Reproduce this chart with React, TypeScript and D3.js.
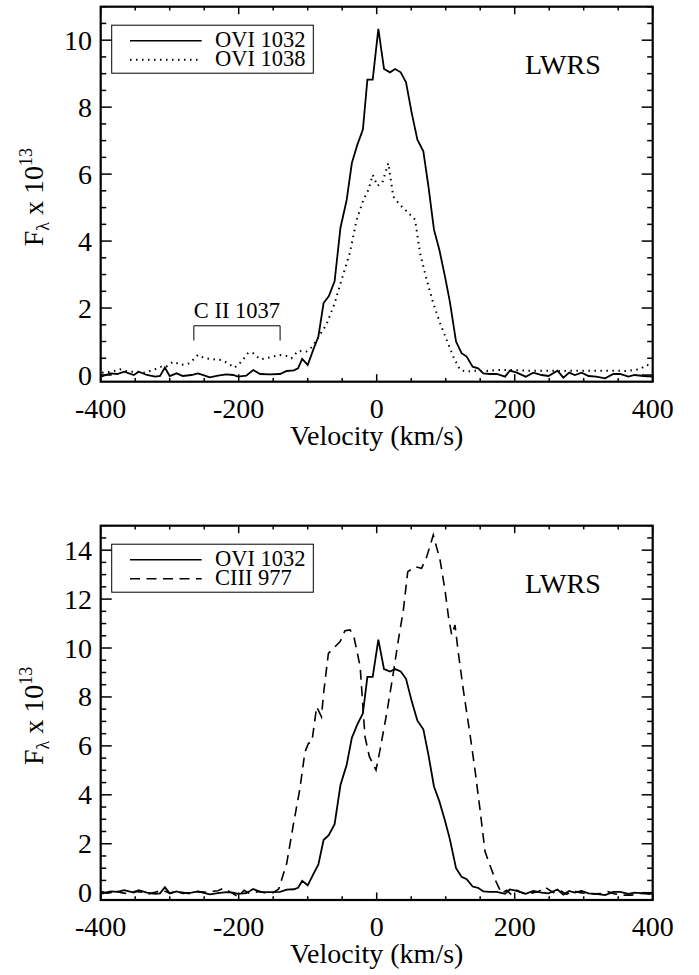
import React from "react";
import * as d3 from "d3";

// ---- Data ----
const ovi1032V = [
  -400, -385.5, -376, -366, -352, -345, -333, -321, -314, -307, -300, -290, -281, -268.5, -259, -249, -242, -230, -218, -208,
  -201, -189, -179, -169, -155, -140, -130.4, -120, -114, -108, -100, -92, -84.5, -77, -69.5, -61, -52.5, -43.5, -36, -28,
  -20, -13.5, -5.8, 2.4, 10.6, 19.3, 26.6, 34.8, 42.5, 50.7, 59, 67.6, 75, 83, 90.8, 99, 106, 115, 123, 130.4,
  139, 147, 154.6, 164, 174, 186, 193, 203, 216, 227, 239, 249, 262, 270.5, 279, 287, 297, 307, 318, 331,
  343, 352.7, 364.7, 374, 386.5, 400,
];
const ovi1032F = [
  -0.05, 0.05, 0.03, 0.1, 0, 0.1, 0, -0.05, -0.03, 0.22, -0.03, 0.05, -0.03, 0, 0.05, -0.02, -0.07, -0.02, 0.02, 0,
  -0.05, -0.02, 0.15, 0.03, 0.02, 0.03, 0.12, 0.14, 0.2, 0.48, 0.3, 0.75, 1.15, 2.15, 2.35, 2.8, 4.4, 5.23, 6.33, 6.88,
  7.33, 8.82, 8.82, 10.34, 9.14, 9.04, 9.14, 9.04, 8.74, 7.83, 7.03, 6.68, 5.63, 4.34, 3.74, 2.94, 2.19, 1.0, 0.65, 0.55,
  0.25, 0.2, 0.05, 0.03, 0.03, -0.05, 0.13, 0.07, -0.05, 0.07, 0, -0.03, 0.13, -0.08, 0.07, 0, 0.07, -0.03, -0.05, -0.1,
  0.03, 0.03, -0.05, 0, -0.03, -0.05,
];

const ovi1038V = [
  -398, -384, -372, -360, -348, -336, -324, -312, -305, -295, -283, -271, -259, -249.5, -237, -225, -215.5, -206, -196, -186,
  -179, -169, -160, -150, -140.5, -131, -123.5, -114, -102, -93, -84, -73, -61, -51, -39, -29, -19.3, -12, -5.8, 1,
  8.2, 16.9, 24, 33.8, 45.9, 55.6, 62.8, 72.5, 82, 91.8, 101.4, 111, 120.8, 130.4, 140, 150, 159, 174, 193, 217,
  241.5, 266, 290, 314, 338, 362, 381.6, 391, 398.5,
];
const ovi1038F = [
  0.07, 0.1, 0.17, 0.1, 0.1, 0.07, 0.15, 0.25, 0.25, 0.4, 0.3, 0.35, 0.6, 0.5, 0.47, 0.45, 0.35, 0.22, 0.4, 0.67,
  0.65, 0.47, 0.5, 0.55, 0.6, 0.57, 0.5, 0.72, 0.7, 0.85, 1.15, 1.5, 2.14, 2.84, 3.64, 4.64, 5.23, 5.53, 5.98, 5.65,
  5.75, 6.33, 5.33, 5.08, 4.84, 4.64, 3.64, 2.84, 2.14, 1.55, 1.05, 0.55, 0.15, 0.1, 0.13, 0.12, 0.12, 0.15, 0.15, 0.13,
  0.13, 0.12, 0.13, 0.13, 0.13, 0.12, 0.17, 0.3, 0.27,
];

const ciii977V = [
  -400, -390, -380, -370, -360, -350, -340, -330, -320, -310, -300, -290, -280, -270, -260, -250, -240, -230, -222, -212,
  -201, -192, -185, -179, -170, -160, -150, -142, -130.4, -121, -111.6, -104, -99, -94, -87, -80, -77, -70, -60.4, -53,
  -46, -38.6, -33, -24, -17, -10.6, -1, 4.8, 14.5, 24, 31.4, 38.6, 45, 55.6, 65, 72.5, 82, 91.8, 99, 104,
  108.7, 113.5, 118.4, 125.6, 135, 142.5, 149.8, 157, 164, 173, 181, 188.4, 195.7, 203, 212.6, 222, 234, 244, 256, 265.7,
  275, 285, 294.7, 304, 316, 328, 335, 345, 357.5, 369.5, 381.6, 391, 398.6,
];
const ciii977F = [
  0.05, -0.02, 0.08, 0, -0.05, 0.05, 0.02, -0.05, 0.03, 0.1, -0.02, 0.05, 0, -0.05, 0.04, 0.02, 0.05, 0.08, 0.18, 0.02,
  -0.16, 0.1, -0.02, 0, 0.05, -0.02, 0, 0.15, 1.2, 2.75, 4.2, 5.75, 6.1, 6.15, 7.6, 7.19, 8.15, 9.78, 10.05, 10.26,
  10.71, 10.74, 10.46, 9.24, 6.38, 5.56, 5.01, 5.83, 7.33, 8.96, 10.33, 11.55, 13.12, 13.32, 13.26, 13.73, 14.62, 13.6, 12.37, 11.28,
  10.53, 10.94, 9.78, 8.28, 6.51, 5.01, 3.38, 1.68, 1.13, 0.45, -0.03, 0.1, -0.1, 0.1, -0.03, -0.03, 0.04, 0.22, 0, 0.1,
  -0.07, 0.08, 0, -0.03, -0.05, -0.03, 0.04, -0.05, -0.1, -0.1, -0.03, -0.03, -0.1,
];

const xTicks = [-400, -200, 0, 200, 400];
const topYTicks = [0, 2, 4, 6, 8, 10];
const bottomYTicks = [0, 2, 4, 6, 8, 10, 12, 14];
const topLegend = ["OVI 1032", "OVI 1038"];
const bottomLegend = ["OVI 1032", "CIII 977"];
const cIIRange = [-265, -140];
const cIILabel = "C II 1037";
const instrument = "LWRS";

// ---- Layout ----
const W = 699;
const H = 975;
const FONT = "Liberation Serif, serif";
const X0 = 100.7;
const X1 = 652.7;
const DOT = "1.5,4.5";
const DASH = "10,6.5";

type Series = { v: number[]; f: number[]; dash: string | null; width: number };

function zip(v: number[], f: number[]): [number, number][] {
  return v.map((d, i) => [d, f[i]] as [number, number]);
}

function Panel(props: {
  top: number;
  bottom: number;
  yDomain: [number, number];
  yTicks: number[];
  series: Series[];
  legend: string[];
  legendDash: (string | null)[];
  cII?: boolean;
}) {
  const { top, bottom, yDomain, yTicks, series, legend, legendDash, cII } = props;
  const x = d3.scaleLinear().domain([-400, 400]).range([X0, X1]);
  const y = d3.scaleLinear().domain(yDomain).range([bottom, top]);
  const line = d3
    .line<[number, number]>()
    .x((d) => x(d[0]))
    .y((d) => y(d[1]));

  const xMinor = d3.range(-400, 401, 50);
  const yMinor = d3.range(0, yDomain[1] + 0.001, 0.5);
  const plotH = bottom - top;
  const plotW = X1 - X0;
  const xMajLen = plotH * 0.02;
  const yMajLen = plotW * 0.02;

  const midY = (top + bottom) / 2;
  const legTop = top + 18.5;
  const legH = 48;

  return (
    <g>
      <defs>
        <clipPath id={`clip${Math.round(top)}`}>
          <rect x={X0} y={top} width={plotW} height={plotH} />
        </clipPath>
      </defs>
      <g clipPath={`url(#clip${Math.round(top)})`}>
        {series.map((s, i) => (
          <path
            key={i}
            d={line(zip(s.v, s.f)) || ""}
            fill="none"
            stroke="#000"
            strokeWidth={s.width}
            strokeDasharray={s.dash || undefined}
          />
        ))}
      </g>
      {xMinor.map((t) => {
        const major = xTicks.includes(t);
        const len = major ? xMajLen : xMajLen / 2;
        return (
          <g key={`xt${t}`} stroke="#000" strokeWidth={1.5}>
            <line x1={x(t)} x2={x(t)} y1={bottom} y2={bottom - len} />
            <line x1={x(t)} x2={x(t)} y1={top} y2={top + len} />
          </g>
        );
      })}
      {yMinor.map((t) => {
        const major = yTicks.includes(t);
        const len = major ? yMajLen : yMajLen / 2;
        return (
          <g key={`yt${t}`} stroke="#000" strokeWidth={1.5}>
            <line x1={X0} x2={X0 + len} y1={y(t)} y2={y(t)} />
            <line x1={X1} x2={X1 - len} y1={y(t)} y2={y(t)} />
          </g>
        );
      })}
      <rect x={X0} y={top} width={plotW} height={plotH} fill="none" stroke="#000" strokeWidth={2.2} />
      {xTicks.map((t) => (
        <text key={`xl${t}`} x={x(t)} y={bottom + 36} textAnchor="middle" fontSize={28} fontFamily={FONT}>
          {t}
        </text>
      ))}
      {yTicks.map((t) => (
        <text key={`yl${t}`} x={92} y={y(t) + 9.5} textAnchor="end" fontSize={28} fontFamily={FONT}>
          {t}
        </text>
      ))}
      <text x={(X0 + X1) / 2} y={bottom + 63} textAnchor="middle" fontSize={28} fontFamily={FONT}>
        Velocity (km/s)
      </text>
      <text
        transform={`translate(43,${midY + 3}) rotate(-90)`}
        textAnchor="middle"
        fontSize={28}
        fontFamily={FONT}
      >
        F
        <tspan fontSize={18} dy={6}>λ</tspan>
        <tspan dy={-6}> x 10</tspan>
        <tspan fontSize={18} dy={-11}>13</tspan>
      </text>
      <rect x={111.7} y={legTop} width={201.6} height={legH} fill="#fff" stroke="#000" strokeWidth={1} />
      {legend.map((lab, i) => {
        const ly = legTop + 15.5 + i * 19;
        const dash = legendDash[i];
        return (
          <g key={lab}>
            <line
              x1={130}
              x2={201.7}
              y1={ly}
              y2={ly}
              stroke="#000"
              strokeWidth={dash === DOT ? 2 : 1.6}
              strokeDasharray={dash || undefined}
            />
            <text x={215} y={ly + 6.5} fontSize={22.5} fontFamily={FONT}>
              {lab}
            </text>
          </g>
        );
      })}
      <text x={525} y={top + 67} fontSize={28} fontFamily={FONT}>
        {instrument}
      </text>
      {cII && (
        <g>
          <path
            d={`M${x(cIIRange[0])},${y(1.03)}V${y(1.47)}H${x(cIIRange[1])}V${y(1.03)}`}
            fill="none"
            stroke="#000"
            strokeWidth={1}
          />
          <text
            x={(x(cIIRange[0]) + x(cIIRange[1])) / 2}
            y={y(1.47) - 7.5}
            textAnchor="middle"
            fontSize={22.5}
            fontFamily={FONT}
          >
            {cIILabel}
          </text>
        </g>
      )}
    </g>
  );
}

export default function App() {
  return (
    <div style={{ position: "absolute", left: 0, top: 0 }}>
      <svg width={W} height={H} viewBox={`0 0 ${W} ${H}`} style={{ display: "block", background: "#fff" }}>
        <rect width={W} height={H} fill="#fff" />
        <Panel
          top={6.7}
          bottom={381.7}
          yDomain={[-0.2, 11]}
          yTicks={topYTicks}
          series={[
            { v: ovi1032V, f: ovi1032F, dash: null, width: 1.8 },
            { v: ovi1038V, f: ovi1038F, dash: DOT, width: 2 },
          ]}
          legend={topLegend}
          legendDash={[null, DOT]}
          cII
        />
        <Panel
          top={525.7}
          bottom={900}
          yDomain={[-0.3, 15]}
          yTicks={bottomYTicks}
          series={[
            { v: ovi1032V, f: ovi1032F, dash: null, width: 1.8 },
            { v: ciii977V, f: ciii977F, dash: DASH, width: 1.6 },
          ]}
          legend={bottomLegend}
          legendDash={[null, DASH]}
        />
      </svg>
    </div>
  );
}
